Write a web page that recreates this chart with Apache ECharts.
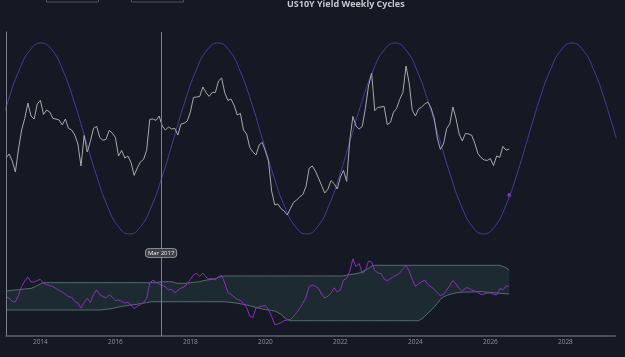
<!DOCTYPE html>
<html>
<head>
<meta charset="utf-8">
<script src="https://cdn.jsdelivr.net/npm/echarts@6/dist/echarts.min.js"></script>
<style>
html, body { margin: 0; padding: 0; background: #151923; }
#main { width: 625px; height: 357px; }
</style>
</head>
<body>
<div id="main"></div>
<script>
var chartTitle = 'US10Y Yield Weekly Cycles';
var yearTicks = [2014, 2016, 2018, 2020, 2022, 2024, 2026, 2028];
var axisStart = 2013 + 1 / 12;
var axisEnd = 2029 + 4 / 12;
var crosshairAt = 2017.22;
var crosshairLabel = 'Mar 2017';

// monthly closes, starting Feb 2013 (cycle index units)
var firstYear = 2013;
var firstMonth = 2;
var price = [
    47, 49, 45.5, 40, 51.5, 61, 66.8, 74.5, 68, 66.5,
    74, 75.8, 68.8, 71, 70, 66.8, 66.5, 66, 63.5, 66.5,
    61.8, 61, 58.5, 54, 43, 58.3, 50, 55.3, 61.8, 62.8,
    57.3, 55.9, 56.3, 60.8, 59.5, 57.3, 48, 50.8, 47, 48,
    44.8, 38.3, 42, 45, 46.3, 50.8, 66.3, 66.5, 65.8, 68,
    63, 61, 62.5, 61.5, 61.8, 58.5, 64, 64.4, 65.5, 70,
    77.3, 77.5, 77.8, 82.5, 79.7, 77.8, 79.8, 79.8, 85.5, 87,
    79.6, 75.8, 76.5, 73.3, 68.5, 69.3, 61, 59, 52.3, 50,
    48.5, 53.5, 54.8, 50.5, 45.5, 30.5, 23.5, 24, 21.7, 20.5,
    18.5, 21.7, 24.8, 26, 27.5, 28.8, 32.7, 41.8, 43, 40.5,
    37, 33.2, 29.5, 31.4, 35.7, 34.2, 31.5, 37.5, 40.8, 35.3,
    55.8, 67.8, 63, 61.5, 62.8, 71.8, 83, 89.5, 70.7, 72.3,
    72.5, 72.8, 63.7, 64.8, 69.9, 71.8, 76.4, 79.8, 93, 84.5,
    70.8, 68, 71.5, 72.5, 74, 75, 72, 67, 57, 51.3,
    54, 61.7, 64, 72.5, 66.7, 59, 55.5, 59.3, 59, 58.4,
    54.4, 49.3, 47.2, 46, 45.8, 46.7, 43.2, 48, 47.3, 52.8,
    50.9, 51.5
];

// lower panel: oscillator and its channel, same months
var oscillator = [
    39, 38, 34.5, 34, 41, 49.5, 55, 59, 54, 54,
    55.5, 56.7, 52.7, 51.5, 50.5, 49.5, 47.5, 45.5, 44, 41.7,
    39.3, 38.7, 34.5, 33, 28, 33.5, 37.7, 33.5, 41.3, 46,
    41.3, 39.5, 38, 41.3, 39, 35.5, 36, 34.7, 33, 33.7,
    31, 27.3, 29.7, 31.3, 33.5, 37.5, 53, 55.8, 54, 52,
    50.7, 49, 46, 46.7, 43, 45.7, 48, 49, 52.3, 56.6,
    61, 62.7, 59.5, 63, 58.8, 57, 57.5, 56.2, 59.5, 60.7,
    53, 43.5, 41.5, 39, 36.5, 35.6, 32.5, 28.5, 20, 18.5,
    28, 29, 30, 30.5, 26.3, 19.5, 11.5, 12, 13.3, 15.4,
    16, 16.4, 19.5, 23.3, 27.7, 32.7, 39, 49.5, 51, 49.7,
    47.5, 42, 38, 39.7, 43, 48.2, 44, 46, 56, 57.7,
    64.7, 77.2, 69.3, 72.5, 62.5, 65.3, 75, 74, 65.5, 63,
    62.5, 57, 55.2, 57.4, 59.4, 61, 63.1, 67.2, 70.3, 65,
    56.7, 49.6, 52.1, 54.1, 55.9, 51.4, 49.2, 46.8, 43.2, 40.3,
    41.6, 45.9, 50.5, 55.4, 52, 47.5, 44.6, 48, 48.1, 46,
    45, 43.5, 41.5, 41.9, 42.8, 43.1, 41.8, 41, 47.5, 46.2,
    50, 50
];
var bandUpper = [
    45, 45.3, 45.7, 46, 46.3, 46.7, 47, 47.3, 47.5, 49,
    50.5, 52, 53.3, 53.3, 53.3, 53.3, 53.3, 53.3, 53.3, 53.3,
    53.3, 53.3, 53.3, 53.3, 53.3, 53.3, 53.3, 53.3, 53.3, 53.3,
    53.3, 53.3, 53.3, 53.3, 53.3, 53.3, 53.3, 53.3, 53.3, 53.3,
    53.3, 53.3, 53.3, 53.3, 53.3, 53.3, 53.3, 53.3, 53.3, 54,
    54.3, 54.3, 54.3, 54.3, 53.3, 52.7, 52.7, 52.7, 52.8, 53.2,
    53.7, 54, 54.3, 55.2, 55.8, 56.3, 56.7, 57.4, 58.5, 59.5,
    60, 60, 60, 60, 60, 60, 60, 60, 60, 60,
    60, 60, 60, 60, 60, 60, 60, 60, 60, 60,
    60, 60, 60, 60, 60, 60, 60, 60, 60, 60,
    60, 60, 60, 60, 60, 60, 60, 60, 60.2, 60.8,
    61.4, 61.8, 62.3, 63, 64.3, 66, 67.7, 70, 70.7, 70.7,
    70.7, 70.7, 70.7, 70.7, 70.7, 70.7, 70.7, 70.7, 70.7, 70.7,
    70.7, 70.7, 70.7, 70.7, 70.7, 70.7, 70.7, 70.7, 70.7, 70.7,
    70.7, 70.7, 70.7, 70.7, 70.7, 70.7, 70.7, 70.7, 70.7, 70.7,
    70.7, 70.7, 70.7, 70.7, 70.7, 70.7, 70.7, 70.7, 70.7, 69.5,
    68.2, 66.2
];
var bandLower = [
    26, 26, 26, 26, 26, 26, 26, 26, 26, 26,
    26, 26, 26, 26, 26, 26, 26, 26, 26, 26,
    26, 26, 26, 26, 26, 26, 26, 26, 26, 26,
    26, 26.3, 26.7, 27.1, 27.5, 28.2, 28.9, 29.6, 30.1, 30.5,
    30.9, 31.3, 31.8, 32.4, 32.8, 33.4, 34, 34.3, 34.3, 34.3,
    34.3, 34.3, 34.3, 34.3, 34.3, 34.3, 34.3, 34.3, 34.3, 34.3,
    34.3, 34.3, 34.3, 34.3, 34.3, 34.3, 34.3, 34.3, 34.3, 34.3,
    34.3, 33.8, 33.5, 33.2, 32.7, 32.2, 31.6, 31, 30.2, 29.3,
    28.6, 27.8, 27, 26.4, 26, 25.5, 25, 23.5, 21.7, 18.6,
    16.5, 15.3, 15.3, 15.3, 15.3, 15.3, 15.3, 15.3, 15.3, 15.3,
    15.3, 15.3, 15.3, 15.3, 15.3, 15.3, 15.3, 15.3, 15.3, 15.3,
    15.3, 15.3, 15.3, 15.3, 15.3, 15.3, 15.3, 15.3, 15.3, 15.3,
    15.3, 15.3, 15.3, 15.3, 15.3, 15.3, 15.3, 15.3, 15.3, 15.3,
    15.3, 15.3, 15.3, 17, 19.7, 22.8, 25.7, 28.8, 32.7, 36.6,
    39, 40.5, 41.6, 42.4, 43.1, 43.5, 43.7, 43.9, 44, 44.1,
    44.2, 44.3, 44.3, 44.1, 43.8, 43.6, 43.3, 43, 42.7, 42.5,
    42.2, 42
];

// fitted weekly cycle, sampled every 1/16 of its period
var cycleStart = 2012.837;
var cycleStep = 0.295;
var cycle = [
    56.8, 75.1, 90.5, 100.9,
    104.5, 100.9, 90.5, 75.1, 56.8, 38.5, 23, 12.7, 9, 12.7, 23, 38.5, 56.8, 75.1, 90.5, 100.9,
    104.5, 100.9, 90.5, 75.1, 56.8, 38.5, 23, 12.7, 9, 12.7, 23, 38.5, 56.8, 75.1, 90.5, 100.9,
    104.5, 100.9, 90.5, 75.1, 56.8, 38.5, 23, 12.7, 9, 12.7, 23, 38.5, 56.8, 75.1, 90.5, 100.9,
    104.5, 100.9, 90.5, 75.1, 56.8
];
var cycleNow = [2026.505, 28.5];

function monthX(i) { return firstYear + (firstMonth - 1 + i) / 12; }
function cycleX(i) { return cycleStart + i * cycleStep; }
function toPairs(values, xOf) {
    return values.map(function (v, i) { return [xOf(i), v]; });
}

var bg = '#151923';
var bandLine = '#566d72';

var chart = echarts.init(document.getElementById('main'));
var option = {
    backgroundColor: bg,
    animation: false,
    title: {
        text: chartTitle,
        left: 287,
        top: 0,
        padding: 0,
        textStyle: {
            color: '#c4c8ce',
            fontSize: 9,
            fontWeight: 'bold',
            fontFamily: 'Open Sans'
        }
    },
    graphic: [
        { type: 'rect', shape: { x: 46.5, y: -8, width: 52, height: 10 }, style: { fill: 'none', stroke: '#4e5360', lineWidth: 1 } },
        { type: 'rect', shape: { x: 131.5, y: -8, width: 52, height: 10 }, style: { fill: 'none', stroke: '#4e5360', lineWidth: 1 } }
    ],
    grid: [
        { left: 6, right: 9.6, top: 32, height: 214 },
        { left: 6, right: 9.6, top: 246, height: 90 }
    ],
    xAxis: [{
        type: 'value',
        gridIndex: 0,
        min: axisStart,
        max: axisEnd,
        axisLine: { show: false },
        axisTick: { show: false },
        axisLabel: { show: false },
        splitLine: { show: false },
        axisPointer: {
            show: true,
            status: 'show',
            value: crosshairAt,
            snap: false,
            triggerTooltip: false,
            lineStyle: { color: '#7a7e86', width: 1, type: 'solid' },
            label: {
                show: true,
                margin: 3,
                formatter: function () { return crosshairLabel; },
                color: '#eeeeee',
                fontSize: 6,
                fontFamily: 'Open Sans',
                backgroundColor: '#3e4046',
                borderColor: '#a9abaf',
                borderWidth: 0.8,
                padding: [1, 2]
            }
        }
    }, {
        type: 'value',
        gridIndex: 1,
        min: axisStart,
        max: axisEnd,
        z: 5,
        axisLine: { show: true, lineStyle: { color: '#5c6069', width: 1.5 } },
        axisTick: { show: false },
        splitLine: { show: false },
        axisLabel: {
            customValues: yearTicks,
            margin: 3,
            color: '#8e939a',
            fontSize: 6.5,
            fontFamily: 'Open Sans',
            formatter: function (v) { return yearTicks.indexOf(v) >= 0 ? String(v) : ''; }
        },
        axisPointer: {
            show: true,
            status: 'show',
            value: crosshairAt,
            snap: false,
            triggerTooltip: false,
            lineStyle: { color: '#7a7e86', width: 1, type: 'solid' },
            label: { show: false }
        }
    }],
    yAxis: [{
        type: 'value',
        gridIndex: 0,
        min: 3,
        max: 110,
        z: 5,
        axisLine: { show: true, lineStyle: { color: '#7c8088', width: 1 } },
        axisTick: { show: false },
        axisLabel: { show: false },
        splitLine: { show: false }
    }, {
        type: 'value',
        gridIndex: 1,
        min: 0,
        max: 90,
        z: 5,
        axisLine: { show: true, lineStyle: { color: '#7c8088', width: 1 } },
        axisTick: { show: false },
        axisLabel: { show: false },
        splitLine: { show: false }
    }],
    series: [{
        name: 'Cycle',
        type: 'line',
        xAxisIndex: 0,
        yAxisIndex: 0,
        smooth: true,
        showSymbol: false,
        lineStyle: { color: '#423ea0', width: 1 },
        data: toPairs(cycle, cycleX)
    }, {
        name: 'US10Y',
        type: 'line',
        xAxisIndex: 0,
        yAxisIndex: 0,
        showSymbol: false,
        lineStyle: { color: '#a9a9ab', width: 1 },
        data: toPairs(price, monthX)
    }, {
        name: 'Now',
        type: 'scatter',
        xAxisIndex: 0,
        yAxisIndex: 0,
        symbolSize: 4,
        itemStyle: { color: '#9d3cf2' },
        data: [cycleNow]
    }, {
        name: 'Upper',
        type: 'line',
        xAxisIndex: 1,
        yAxisIndex: 1,
        showSymbol: false,
        lineStyle: { color: bandLine, width: 1 },
        areaStyle: { color: '#1d2a31', opacity: 1 },
        data: toPairs(bandUpper, monthX)
    }, {
        name: 'Lower',
        type: 'line',
        xAxisIndex: 1,
        yAxisIndex: 1,
        showSymbol: false,
        lineStyle: { color: bandLine, width: 1 },
        areaStyle: { color: bg, opacity: 1 },
        data: toPairs(bandLower, monthX)
    }, {
        name: 'Oscillator',
        type: 'line',
        xAxisIndex: 1,
        yAxisIndex: 1,
        showSymbol: false,
        lineStyle: { color: '#8a2fbd', width: 1 },
        data: toPairs(oscillator, monthX)
    }]
};
chart.setOption(option);
</script>
</body>
</html>
